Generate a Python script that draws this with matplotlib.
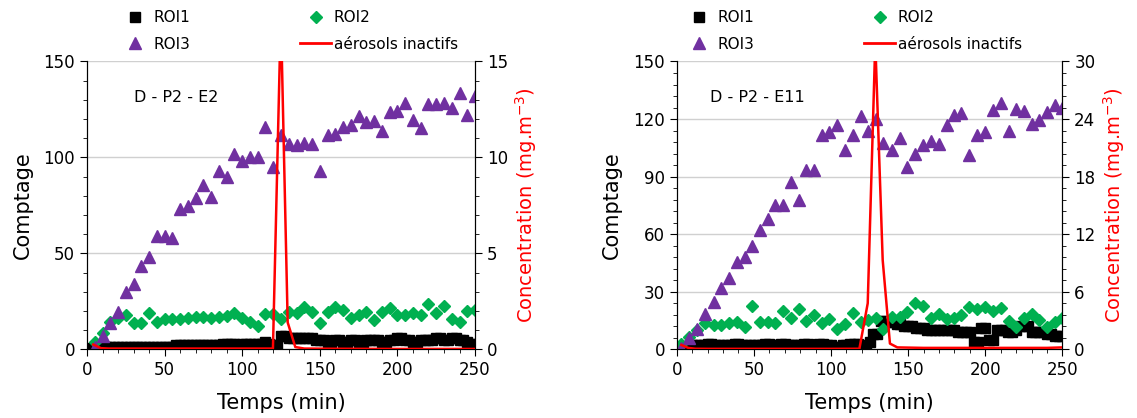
import matplotlib.pyplot as plt
from matplotlib.ticker import MultipleLocator
from matplotlib.lines import Line2D

# ---- data, left panel (D - P2 - E2) ----
t5 = [5, 10, 15, 20, 25, 30, 35, 40, 45, 50, 55, 60, 65, 70, 75, 80, 85, 90, 95, 100,
      105, 110, 115, 120, 125, 130, 135, 140, 145, 150, 155, 160, 165, 170, 175, 180,
      185, 190, 195, 200, 205, 210, 215, 220, 225, 230, 235, 240, 245, 250]
t25 = [2.5, 5, 7.5, 10, 12.5, 15, 17.5, 20, 22.5, 25, 27.5, 30, 32.5, 35, 37.5, 40,
       42.5, 45, 47.5, 50, 52.5, 55, 57.5, 60, 62.5, 65, 67.5, 70, 72.5, 75, 77.5, 80,
       82.5, 85, 87.5, 90, 92.5, 95, 97.5, 100, 102.5, 105, 107.5, 110, 112.5, 115,
       117.5, 120, 122.5, 125, 127.5, 130, 132.5, 135, 137.5, 140, 142.5, 145, 147.5,
       150, 152.5, 155, 157.5, 160, 162.5, 165, 167.5, 170, 172.5, 175, 177.5, 180,
       182.5, 185, 187.5, 190, 192.5, 195, 197.5, 200, 202.5, 205, 207.5, 210, 212.5,
       215, 217.5, 220, 222.5, 225, 227.5, 230, 232.5, 235, 237.5, 240, 242.5, 245,
       247.5, 250]

roi1_a = [0.5, 0.5, 1, 1,
          1, 1, 1, 1, 1, 1, 1, 1, 1, 1, 1, 1, 1, 1, 1, 1, 1, 1,
          2, 2, 2, 2, 2, 2, 2, 2, 2, 2, 2, 2,
          3, 3, 3, 3, 2, 3, 3, 3, 3, 3, 3, 4, 3,
          2, 2,
          7, 7, 6, 6, 6, 6, 6, 6, 6, 5,
          5, 5, 4, 4, 5, 5, 4, 4, 5, 5, 4, 4, 5, 5, 5, 5, 4, 4, 5, 5, 6,
          6, 5, 5, 4, 4, 5, 5, 5, 5, 6, 6, 5, 5, 6, 6, 5, 5, 4, 3, 3]
roi2_a = [4, 8.3, 14.4, 16.2, 17.9, 13.9, 13.9, 18.8, 14.4, 15.7, 15.7, 15.7, 16.5, 17,
          17, 16.5, 17, 17.4, 18.8, 16.2, 14.4, 12.3, 18.4, 18.4, 15.7, 19.7, 18.8, 22.3,
          19.7, 13.9, 19.7, 21.9, 20.5, 16.2, 17.9, 19.7, 15.3, 19.7, 21.4, 17.9, 17.9,
          18.8, 17.9, 23.5, 18.8, 22.6, 15.7, 14.4, 20.2, 20.5]
roi3_a = [1, 7, 13.9, 19.6, 29.7, 34, 43.5, 48, 59, 59, 58, 73, 74.8, 78.8, 85.7, 79.6,
          93, 89.7, 102, 98, 100, 100, 116, 94.8, 111.8, 107, 106.6, 107.5, 107, 93,
          111.5, 112, 116, 117, 121.7, 118.3, 119, 114, 123.6, 124, 128.3, 119.7, 115.3,
          127.8, 127.8, 128.3, 125.7, 133.6, 122, 131.8]
tc_a = [4, 9, 14, 20, 40, 60, 80, 100, 115, 119.8, 124.9, 129.3, 134.2, 140, 160, 200, 250]
conc_a = [0.25, 0.06, 0.04, 0.04, 0.04, 0.04, 0.04, 0.04, 0.04, 0.04, 17.5, 1.4, 0.12,
          0.04, 0.03, 0.02, 0.02]

# ---- data, right panel (D - P2 - E11) ----
t5b = [2.5, 8, 13, 18.5, 24, 29, 34, 39, 44, 49, 54, 59, 64, 69, 74, 79, 84, 89, 94, 99,
       104, 109, 114, 119.5, 124, 129, 134, 139.5, 144.5, 149.5, 154.5, 159.5, 165, 170,
       175, 180, 184.5, 189.5, 194.5, 200, 205, 210.5, 215.5, 220, 225, 230, 235, 240,
       245, 250]
roi1_b = [1, 1, 1.5, 2,
          2, 2, 2, 3, 3, 2, 2, 2, 2, 2, 3, 3, 2, 2, 2, 2, 2, 2, 3, 3,
          2, 2, 3, 3, 2, 2, 2, 2, 3, 3, 2, 2, 3, 3, 2, 2, 1, 1, 2, 2, 3, 3, 3,
          1, 2, 4,
          8, 8,
          15, 15, 14, 14,
          13, 13, 12,
          12, 12, 11, 11, 11,
          10, 10, 10, 10, 10, 10, 10, 10, 9,
          9, 9, 9,
          4, 4,
          11, 11,
          5, 5,
          10, 10, 10, 9, 9, 10,
          12, 12, 12,
          9, 9, 9, 9,
          8, 8, 7, 7, 7]
roi2_b = [2.6, 6.6, 10, 13.5, 12.7, 12.7, 13.9, 14.4, 11.8, 22.7, 14, 14, 13.5, 19.9,
          16.1, 20.8, 14.9, 17.9, 13.5, 15.8, 10.6, 13, 19, 14, 15.3, 16.5, 10.6, 17, 17,
          19.6, 24.3, 22.7, 16.5, 18.2, 15.6, 16.5, 17.9, 22.2, 21, 22.2, 19.9, 21.7, 14.7,
          11.8, 16.1, 18.2, 15.3, 11.8, 14, 16.5]
roi3_b = [0.9, 6, 10.6, 18.2, 24.8, 32, 37.3, 45.3, 48.2, 53.8, 62, 68, 75.4, 75, 87.2,
          77.7, 93.3, 93.3, 111.5, 113.2, 116.7, 103.7, 111.8, 121.4, 113.6, 119.8, 107.7,
          103.7, 110, 95, 101.6, 106.3, 108.4, 107.2, 116.7, 122.2, 123.3, 101.4, 111.5,
          113.2, 124.5, 128.5, 113.6, 125.4, 124, 117.2, 119.3, 123.6, 127.2, 125.7]
tc_b = [3, 7.5, 12, 20, 60, 100, 118.4, 123.8, 128.7, 133.5, 138.2, 143, 160, 200, 240, 250]
conc_b = [0.45, 0.15, 0.06, 0.05, 0.05, 0.05, 0.06, 4.8, 32, 9.3, 0.6, 0.2, 0.15, 0.15,
          0.15, 0.2]

PURPLE = '#7030A0'
GREEN = '#00B050'
RED = '#FF0000'

fig = plt.figure(figsize=(11.37, 4.18), dpi=100)


def panel(rect, tag, tag_x, t1, r1, t, r2, r3, tc, conc, lmaj, lmin, ymax_r, rmaj, rmin,
          leg_x):
    ax = fig.add_axes(rect)
    ax.plot(t1, r1, ls='none', marker='s', ms=7.5, color='black', zorder=3)
    ax.plot(t, r2, ls='none', marker='D', ms=6, color=GREEN, zorder=4)
    ax.plot(t, r3, ls='none', marker='^', ms=8.5, color=PURPLE, zorder=5)
    ax.set_xlim(0, 250)
    ax.set_ylim(0, 150)
    ax.xaxis.set_major_locator(MultipleLocator(50))
    ax.xaxis.set_minor_locator(MultipleLocator(10))
    ax.yaxis.set_major_locator(MultipleLocator(lmaj))
    ax.yaxis.set_minor_locator(MultipleLocator(lmin))
    ax.grid(axis='y', which='major', color='#d0d0d0', lw=1)
    ax.set_axisbelow(True)
    ax.tick_params(which='major', length=5, labelsize=12, direction='out')
    ax.tick_params(which='minor', length=3, direction='out')
    ax.spines['top'].set_visible(False)
    ax.set_xlabel('Temps (min)', fontsize=15, labelpad=10)
    ax.set_ylabel('Comptage', fontsize=15, labelpad=8)
    ax.text(tag_x, 0.875, tag, transform=ax.transAxes, fontsize=11.5, va='center')

    ax2 = ax.twinx()
    ax2.plot(tc, conc, color=RED, lw=1.8, zorder=6)
    ax2.set_ylim(0, ymax_r)
    ax2.yaxis.set_major_locator(MultipleLocator(rmaj))
    ax2.yaxis.set_minor_locator(MultipleLocator(rmin))
    ax2.tick_params(which='major', length=5, labelsize=12, direction='out')
    ax2.tick_params(which='minor', length=3, direction='out')
    ax2.spines['top'].set_visible(False)
    ax2.set_ylabel('Concentration (mg.m$^{-3}$)', color=RED, fontsize=14, labelpad=4)

    handles = [Line2D([], [], ls='none', marker='s', ms=7, color='black'),
               Line2D([], [], ls='none', marker='^', ms=8, color=PURPLE),
               Line2D([], [], ls='none', marker='D', ms=6, color=GREEN),
               Line2D([], [], color=RED, lw=2)]
    labels = ['ROI1', 'ROI3', 'ROI2', 'aérosols inactifs']
    fig.legend(handles, labels, ncol=2, loc='upper left',
               bbox_to_anchor=(leg_x, 0.99), frameon=False, fontsize=11,
               handlelength=2.0, handletextpad=0.2, columnspacing=7.2,
               labelspacing=0.75, borderaxespad=0)
    return ax


panel([0.0765, 0.1643, 0.3413, 0.6886], 'D - P2 - E2', 0.12, t25, roi1_a, t5, roi2_a,
      roi3_a, tc_a, conc_a, 50, 10, 15, 5, 1, 0.100)
panel([0.5952, 0.1643, 0.3392, 0.6886], 'D - P2 - E11', 0.086, t25, roi1_b, t5b, roi2_b,
      roi3_b, tc_b, conc_b, 30, 6, 30, 6, 1.2, 0.596)

fig.savefig('out.png', dpi=100)
